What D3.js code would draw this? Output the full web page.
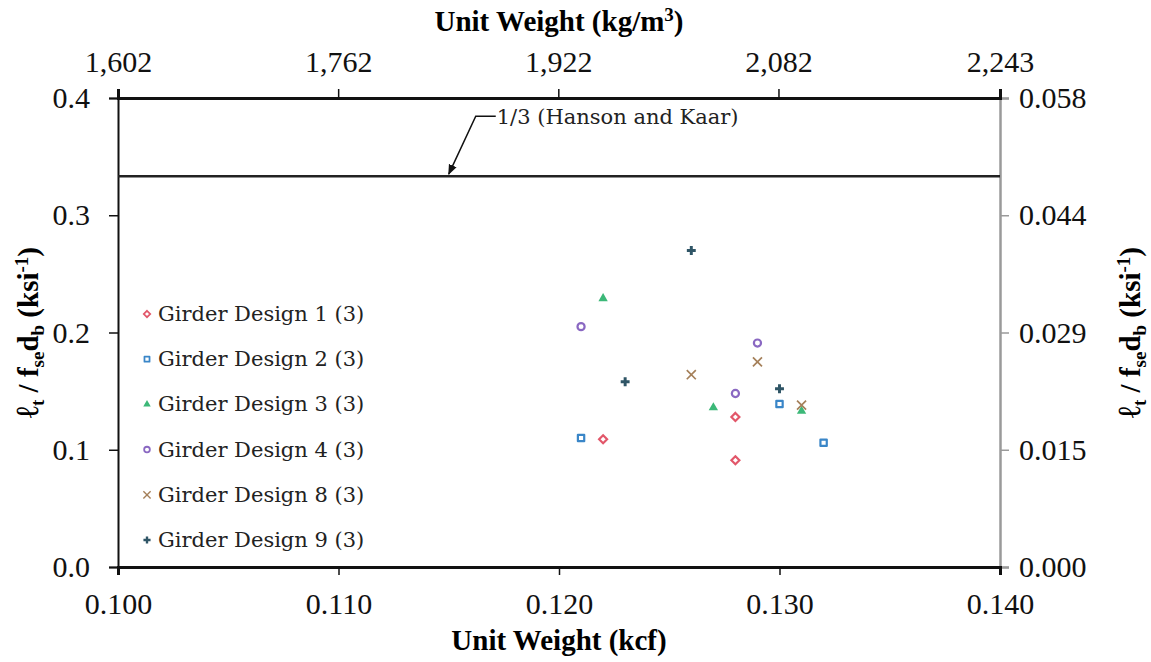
<!DOCTYPE html>
<html>
    <head>
        <title></title>
        <script src="https://d3js.org/d3.v7.min.js"></script>
    </head>

    <body>
        <div id="my_dataviz"></div>
    </body>

    <script>
        // chart values
        var seriesNames = ["Girder Design 1 (3)", "Girder Design 2 (3)", "Girder Design 3 (3)",
                           "Girder Design 4 (3)", "Girder Design 8 (3)", "Girder Design 9 (3)"]
        var seriesColors = ["#e2576a", "#3a86c8", "#3cb878", "#8a68c2", "#a5805a", "#2f5566"]
        var seriesShapes = ["diamond", "square", "triangle", "circle", "x", "plus"]

        var design1 = [[0.122, 0.109], [0.128, 0.128], [0.128, 0.091]]
        var design2 = [[0.121, 0.110], [0.130, 0.139], [0.132, 0.106]]
        var design3 = [[0.122, 0.229], [0.127, 0.136], [0.131, 0.133]]
        var design4 = [[0.121, 0.205], [0.129, 0.191], [0.128, 0.148]]
        var design8 = [[0.129, 0.175], [0.126, 0.164], [0.131, 0.138]]
        var design9 = [[0.126, 0.270], [0.123, 0.158], [0.130, 0.152]]
        var allSeries = [design1, design2, design3, design4, design8, design9]

        var bottomTicks = [0.100, 0.110, 0.120, 0.130, 0.140]
        var leftTicks = [0.0, 0.1, 0.2, 0.3, 0.4]
        var topTicks = [1602, 1762, 1922, 2082, 2243]
        var rightTicks = [0.000, 0.0145, 0.029, 0.0435, 0.058]
        var rightTickLabels = ["0.000", "0.015", "0.029", "0.044", "0.058"]
        var limitValue = 1 / 3
        var limitLabel = "1/3 (Hanson and Kaar)"

        var margin = { top: 98, right: 151, bottom: 95, left: 118 }
        var W = 1151, H = 662
        var width = W - margin.left - margin.right
        var height = H - margin.top - margin.bottom

        var svg = d3.select("#my_dataviz")
        .append("svg")
        .attr("width", W)
        .attr("height", H)
        .style("display", "block")
        .style("background", "#fff")

        d3.select("body").style("margin", "0")

        var g = svg.append("g")
        .attr("transform", "translate(" + margin.left + "," + margin.top + ")")

        var x = d3.scaleLinear().domain([0.100, 0.140]).range([0, width])
        var y = d3.scaleLinear().domain([0, 0.4]).range([height, 0])
        var xTop = d3.scaleLinear().domain([1602, 2243]).range([0, width])
        var yRight = d3.scaleLinear().domain([0, 0.058]).range([height, 0])

        var axisFont = "'Liberation Serif', 'Times New Roman', serif"
        var textFont = "'DejaVu Serif', serif"

        function styleAxis(sel, color, w) {
            sel.selectAll("path").attr("stroke", color).attr("stroke-width", w)
            sel.selectAll("line").attr("stroke", color).attr("stroke-width", 1.5)
            sel.selectAll("text")
            .attr("fill", "#111")
            .style("font-family", axisFont)
            .style("font-size", "30px")
        }

        // right axis (grey)
        var rightAxis = g.append("g")
        .attr("transform", "translate(" + width + ",0)")
        .call(d3.axisRight(yRight).tickValues(rightTicks)
            .tickFormat(function(d, i) { return rightTickLabels[i] })
            .tickSize(9).tickPadding(10))
        styleAxis(rightAxis, "#9a9a9a", 2.5)

        // left axis
        var leftAxis = g.append("g")
        .call(d3.axisLeft(y).tickValues(leftTicks).tickFormat(d3.format(".1f"))
            .tickSize(9).tickPadding(19))
        styleAxis(leftAxis, "#111", 2)

        // bottom axis
        var bottomAxis = g.append("g")
        .attr("transform", "translate(0," + height + ")")
        .call(d3.axisBottom(x).tickValues(bottomTicks).tickFormat(d3.format(".3f"))
            .tickSize(8).tickPadding(18))
        styleAxis(bottomAxis, "#111", 3)

        // top axis
        var topAxis = g.append("g")
        .call(d3.axisTop(xTop).tickValues(topTicks).tickFormat(d3.format(","))
            .tickSize(9).tickPadding(17))
        styleAxis(topAxis, "#111", 3)

        // axis titles
        svg.append("text")
        .attr("x", margin.left + width / 2)
        .attr("y", 31)
        .attr("text-anchor", "middle")
        .style("font-family", axisFont)
        .style("font-size", "29px")
        .style("font-weight", "bold")
        .html("Unit Weight (kg/m<tspan dy='-10' font-size='19'>3</tspan><tspan dy='10'>)</tspan>")

        svg.append("text")
        .attr("x", margin.left + width / 2)
        .attr("y", 650)
        .attr("text-anchor", "middle")
        .style("font-family", axisFont)
        .style("font-size", "29px")
        .style("font-weight", "bold")
        .text("Unit Weight (kcf)")

        var yLabelHtml = "<tspan font-size='32'>\u2113</tspan><tspan dy='6' font-size='19'>t</tspan><tspan dy='-6'> / f</tspan>" +
            "<tspan dy='6' font-size='19'>se</tspan><tspan dy='-6'>d</tspan>" +
            "<tspan dy='6' font-size='19'>b</tspan><tspan dy='-6'> (ksi</tspan>" +
            "<tspan dy='-10' font-size='19'>-1</tspan><tspan dy='10'>)</tspan>"

        svg.append("text")
        .attr("transform", "translate(38," + (margin.top + y(0.2)) + ") rotate(-90)")
        .attr("text-anchor", "middle")
        .style("font-family", axisFont)
        .style("font-size", "29px")
        .style("font-weight", "bold")
        .html(yLabelHtml)

        svg.append("text")
        .attr("transform", "translate(1140," + (margin.top + y(0.2)) + ") rotate(-90)")
        .attr("text-anchor", "middle")
        .style("font-family", axisFont)
        .style("font-size", "29px")
        .style("font-weight", "bold")
        .html(yLabelHtml)

        // 1/3 limit line with callout
        g.append("line")
        .attr("x1", 0).attr("x2", width)
        .attr("y1", y(limitValue)).attr("y2", y(limitValue))
        .attr("stroke", "#222")
        .attr("stroke-width", 2.5)

        svg.append("defs").append("marker")
        .attr("id", "arrow")
        .attr("viewBox", "0 0 10 10")
        .attr("refX", 9).attr("refY", 5)
        .attr("markerWidth", 7).attr("markerHeight", 7)
        .attr("orient", "auto")
        .append("path")
        .attr("d", "M0,1 L10,5 L0,9 z")
        .attr("fill", "#111")

        var tipX = x(0.1150), tipY = y(limitValue) - 2
        g.append("path")
        .attr("d", "M" + (tipX + 47) + "," + (y(limitValue) - 60) +
            " L" + (tipX + 27) + "," + (y(limitValue) - 60) +
            " L" + tipX + "," + tipY)
        .attr("fill", "none")
        .attr("stroke", "#111")
        .attr("stroke-width", 1.5)
        .attr("marker-end", "url(#arrow)")

        g.append("text")
        .attr("x", tipX + 48)
        .attr("y", y(limitValue) - 52)
        .style("font-family", textFont)
        .style("font-size", "21px")
        .attr("fill", "#222")
        .text(limitLabel)

        // marker shapes
        function shapePath(shape) {
            if (shape === "diamond") return "M0,-4L4,0L0,4L-4,0Z"
            if (shape === "square") return d3.symbol(d3.symbolSquare, 40)()
            if (shape === "triangle") return d3.symbol(d3.symbolTriangle, 38)()
            if (shape === "circle") return d3.symbol(d3.symbolCircle, 40)()
            if (shape === "x") return d3.symbol(d3.symbolX, 55)()
            return d3.symbol(d3.symbolCross, 44)()
        }

        function drawMark(sel, i) {
            var shape = seriesShapes[i], color = seriesColors[i]
            var p = sel.append("path").attr("d", shapePath(shape))
            if (shape === "triangle" || shape === "plus") {
                p.attr("fill", color).attr("stroke", "none")
            } else {
                p.attr("fill", "none").attr("stroke", color)
                .attr("stroke-width", shape === "x" ? 1.7 : 2.2)
            }
            if (shape === "square") p.attr("stroke-linejoin", "round")
        }

        // points
        allSeries.forEach(function(series, i) {
            g.append("g").selectAll("g")
            .data(series)
            .enter()
            .append("g")
            .attr("transform", function(d) { return "translate(" + x(d[0]) + "," + y(d[1]) + ")" })
            .each(function() { drawMark(d3.select(this), i) })
        })

        // legend
        var legend = svg.append("g").attr("transform", "translate(147,314)")
        seriesNames.forEach(function(name, i) {
            var row = legend.append("g").attr("transform", "translate(0," + (i * 45.2) + ")")
            drawMark(row.append("g").attr("transform", "scale(0.8)"), i)
            row.append("text")
            .attr("x", 11)
            .attr("y", 7)
            .style("font-family", textFont)
            .style("font-size", "21px")
            .attr("fill", "#222")
            .text(name)
        })
    </script>
</html>
